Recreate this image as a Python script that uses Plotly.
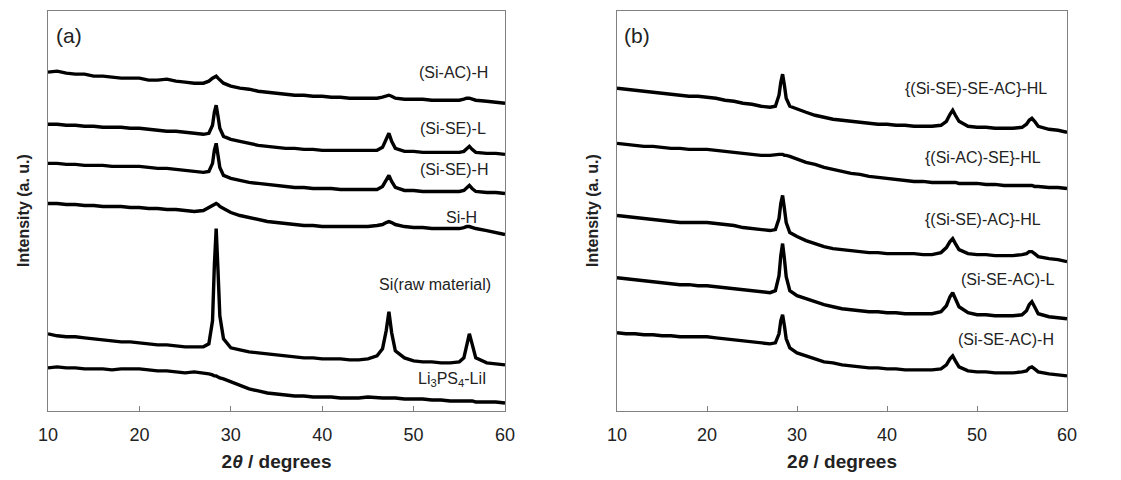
import plotly.graph_objects as go

# 2-theta grid (degrees), finer around the Si reflections
two_theta = [10, 11, 12, 13, 14, 15, 16, 17, 18, 19, 20, 21, 22, 23, 24, 25, 26, 27,
             27.6, 28.0, 28.2, 28.4, 28.6, 28.8, 29.2,
             30, 31, 32, 33, 34, 35, 36, 37, 38, 39, 40, 41, 42, 43, 44, 45, 46,
             46.6, 47.0, 47.3, 47.6, 48.0,
             49, 50, 51, 52, 53, 54, 55,
             55.5, 55.8, 56.1, 56.4, 56.8,
             58, 59, 60]

# Panel (a) intensities (a.u., offset-stacked as in the figure)
si_ac_h = [338, 339, 337, 336, 336, 334, 334, 333, 332, 332, 332, 330, 330, 331, 329, 328, 327, 327,
           329, 332, 333, 334, 332, 330, 327,
           324, 322, 321, 319, 318, 317, 316, 315, 315, 314, 314, 313, 313, 312, 312, 312, 312,
           313, 314, 315, 314, 312,
           311, 311, 311, 310, 310, 310, 310,
           311, 312, 312, 311, 310,
           309, 308, 307]
si_se_l = [286, 286, 285, 285, 284, 284, 283, 283, 283, 282, 282, 281, 280, 279, 279, 278, 277, 276,
           277, 285, 298, 305, 294, 282, 274,
           271, 269, 267, 265, 264, 263, 262, 262, 261, 261, 260, 260, 260, 260, 260, 260, 260,
           263, 270, 277, 269, 262,
           259, 259, 258, 258, 258, 258, 258,
           259, 262, 264, 261, 258,
           257, 257, 256]
si_se_h = [247, 247, 246, 246, 245, 245, 245, 244, 244, 244, 244, 243, 242, 242, 241, 240, 239, 238,
           239, 247, 260, 267, 255, 243, 235,
           232, 230, 228, 227, 226, 225, 224, 223, 223, 222, 222, 222, 221, 221, 221, 221, 221,
           224, 230, 235, 229, 223,
           220, 220, 219, 219, 219, 219, 219,
           220, 223, 225, 222, 219,
           218, 218, 217]
si_h = [207, 207, 206, 206, 205, 205, 204, 204, 204, 203, 203, 202, 202, 201, 201, 200, 199, 200,
        203, 205, 206, 207, 206, 204, 202,
        198, 195, 193, 191, 189, 188, 187, 186, 185, 185, 184, 184, 184, 184, 184, 184, 185,
        186, 188, 189, 188, 186,
        184, 183, 183, 182, 182, 182, 182,
        183, 184, 184, 183, 182,
        180, 178, 176]
si_raw = [77, 75, 74, 74, 73, 72, 71, 70, 69, 69, 68, 67, 66, 66, 65, 64, 64, 64,
          67, 90, 145, 182, 140, 95, 72,
          63, 61, 59, 58, 57, 56, 55, 54, 53, 53, 52, 52, 52, 51, 51, 52, 55,
          62, 80, 99, 78, 60,
          53, 50, 49, 49, 48, 48, 49,
          53, 65, 77, 67, 53,
          48, 47, 46]
li3ps4_lii = [43, 44, 43, 43, 42, 42, 42, 41, 42, 42, 42, 41, 40, 40, 39, 38, 39, 38,
              37, 36, 35, 35, 34, 33, 32,
              29, 25, 22, 20, 18, 17, 16, 15, 15, 14, 14, 14, 13, 13, 13, 14, 13,
              13, 13, 13, 13, 13,
              12, 12, 12, 11, 11, 10, 10,
              10, 10, 10, 10, 9,
              9, 9, 8]

# Panel (b) intensities
si_se_se_ac_hl = [322, 321, 320, 319, 318, 317, 316, 315, 314, 314, 313, 312, 310, 309, 307, 306, 304, 303,
                  304, 315, 328, 336, 325, 312, 304,
                  301, 298, 295, 293, 291, 290, 289, 288, 287, 286, 286, 285, 285, 284, 284, 284, 285,
                  289, 296, 300, 295, 289,
                  284, 283, 283, 282, 282, 282, 283,
                  286, 290, 292, 289, 284,
                  281, 280, 278]
si_ac_se_hl = [267, 266, 265, 264, 264, 263, 262, 262, 261, 261, 261, 260, 259, 258, 257, 256, 255, 255,
               256, 256, 256, 256, 255, 255, 254,
               251, 248, 246, 243, 241, 239, 237, 236, 234, 233, 232, 231, 230, 229, 229, 228, 228,
               228, 228, 228, 228, 227,
               227, 227, 226, 226, 225, 225, 225,
               225, 225, 225, 224, 224,
               223, 223, 222]
si_se_ac_hl = [195, 194, 193, 192, 191, 190, 189, 188, 188, 188, 188, 187, 186, 185, 183, 182, 181, 180,
               181, 192, 207, 215, 202, 188, 178,
               174, 170, 167, 164, 162, 161, 160, 159, 158, 158, 157, 157, 157, 157, 156, 156, 158,
               163, 169, 172, 167, 161,
               157, 156, 156, 155, 155, 155, 156,
               157, 159, 159, 157, 154,
               152, 151, 149]
si_se_ac_l = [133, 132, 131, 130, 129, 128, 127, 126, 126, 125, 125, 124, 123, 122, 121, 120, 119, 118,
              120, 135, 155, 167, 152, 134, 120,
              115, 112, 109, 106, 104, 102, 101, 100, 99, 99, 98, 98, 97, 97, 97, 97, 99,
              105, 114, 118, 112, 104,
              98, 96, 96, 95, 95, 95, 96,
              100, 106, 109, 104, 97,
              94, 93, 92]
si_se_ac_h = [78, 77, 77, 76, 76, 75, 75, 74, 74, 74, 74, 73, 72, 71, 70, 69, 68, 67,
              68, 77, 90, 96, 85, 72, 63,
              58, 55, 52, 49, 48, 46, 45, 44, 43, 43, 42, 42, 41, 41, 41, 41, 42,
              46, 52, 55, 50, 44,
              40, 39, 39, 38, 38, 38, 39,
              40, 43, 44, 42, 39,
              37, 36, 35]

panel_a = [("(Si-AC)-H", si_ac_h), ("(Si-SE)-L", si_se_l), ("(Si-SE)-H", si_se_h),
           ("Si-H", si_h), ("Si(raw material)", si_raw), ("Li<sub>3</sub>PS<sub>4</sub>-LiI", li3ps4_lii)]
panel_b = [("{(Si-SE)-SE-AC}-HL", si_se_se_ac_hl), ("{(Si-AC)-SE}-HL", si_ac_se_hl),
           ("{(Si-SE)-AC}-HL", si_se_ac_hl), ("(Si-SE-AC)-L", si_se_ac_l), ("(Si-SE-AC)-H", si_se_ac_h)]

# label anchor positions (x right edge in degrees, y in a.u.)
labels_a_x = [58.4, 58.1, 58.4, 57.15, 58.7, 58.2]
labels_a_y = [338, 282, 241, 193, 126, 31]
labels_b_x = [58.0, 57.33, 57.33, 58.8, 58.8]
labels_b_y = [322, 253, 191, 131, 71]

# the page body has an 8 px default margin, so the figure is sized/placed to compensate
W, H = 1105, 464
ml, mr, mt, mb = 40, 46, 3, 61
pw = W - ml - mr
ph = H - mt - mb
a_right = (497 - ml) / pw
b_left = (609 - ml) / pw

fig = go.Figure()
line_style = dict(color="black", width=3.4)
for name, vals in panel_a:
    fig.add_trace(go.Scatter(x=two_theta, y=vals, mode="lines", line=line_style,
                             name=name, xaxis="x", yaxis="y", showlegend=False))
for name, vals in panel_b:
    fig.add_trace(go.Scatter(x=two_theta, y=vals, mode="lines", line=line_style,
                             name=name, xaxis="x2", yaxis="y2", showlegend=False))

FONT = "Liberation Sans, Arial, sans-serif"
annotations = []
lab_font = dict(family=FONT, size=16, color="#222")
for (name, _), lx, ly in zip(panel_a, labels_a_x, labels_a_y):
    annotations.append(dict(x=lx, y=ly, xref="x", yref="y", text=name, showarrow=False,
                            xanchor="right", yanchor="middle", font=lab_font))
for (name, _), lx, ly in zip(panel_b, labels_b_x, labels_b_y):
    annotations.append(dict(x=lx, y=ly, xref="x2", yref="y2", text=name, showarrow=False,
                            xanchor="right", yanchor="middle", font=lab_font))

panel_font = dict(family=FONT, size=21, color="#222")
annotations.append(dict(x=10.7, y=375, xref="x", yref="y", text="(a)", showarrow=False,
                        xanchor="left", yanchor="middle", font=panel_font))
annotations.append(dict(x=10.6, y=375, xref="x2", yref="y2", text="(b)", showarrow=False,
                        xanchor="left", yanchor="middle", font=panel_font))

ytitle_font = dict(family=FONT, size=16, color="#222")
for xpx in (15, 584):
    annotations.append(dict(x=(xpx - ml) / pw, y=(H - mb - 203) / ph, xref="paper", yref="paper",
                            text="<b>Intensity (a. u.)</b>", showarrow=False, textangle=-90,
                            font=ytitle_font, xanchor="center", yanchor="middle"))

axis_common = dict(range=[10, 60], tickmode="array", tickvals=[10, 20, 30, 40, 50, 60],
                   ticks="inside", ticklen=5, tickcolor="#808080", showline=True,
                   linecolor="#808080", linewidth=1, mirror=True, showgrid=False, zeroline=False,
                   ticklabelstandoff=7,
                   tickfont=dict(family=FONT, size=18, color="#222"),
                   title=dict(text="<b>2<i>θ</i> / degrees</b>", standoff=13,
                              font=dict(family=FONT, size=19, color="#222")))
yaxis_common = dict(range=[0, 399], showticklabels=False, ticks="", showline=True,
                    linecolor="#808080", linewidth=1, mirror=True, showgrid=False, zeroline=False)

fig.update_layout(
    width=W, height=H,
    margin=dict(l=ml, r=mr, t=mt, b=mb, autoexpand=False),
    paper_bgcolor="white", plot_bgcolor="white",
    xaxis=dict(domain=[0, a_right], anchor="y", **axis_common),
    yaxis=dict(domain=[0, 1], anchor="x", **yaxis_common),
    xaxis2=dict(domain=[b_left, 1], anchor="y2", **axis_common),
    yaxis2=dict(domain=[0, 1], anchor="x2", **yaxis_common),
    annotations=annotations,
)

fig.write_html("out.html")
